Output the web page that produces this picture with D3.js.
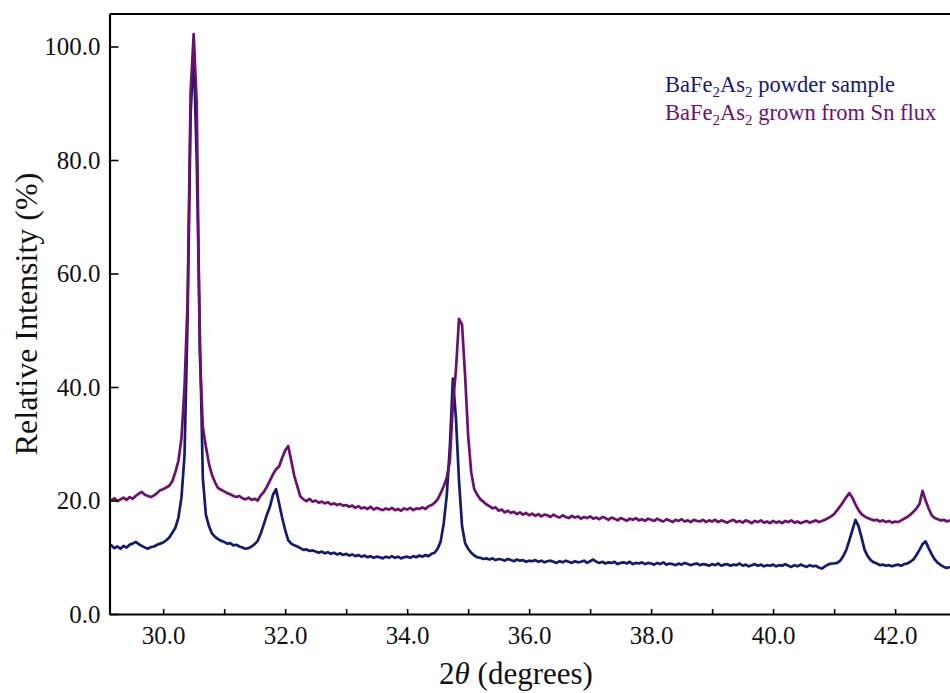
<!DOCTYPE html>
<html>
<head>
<meta charset="utf-8">
<script src="https://cdn.jsdelivr.net/npm/d3@7"></script>
<style>
  body { margin: 0; background: #fff; }
  svg text { font-family: "Liberation Serif", "Times New Roman", serif; }
</style>
</head>
<body>
<div id="chart"></div>
<script>
// scan grid: 2theta from 29.10 to 42.90 in 0.05 deg steps
var scanStart = 29.10;
var scanStep = 0.05;

// BaFe2As2 powder sample, one row per degree
var powder = [
  11.8, 12.1, 11.6, 11.9, 11.5, 12.0, 11.7, 12.2, 12.4, 12.7, 12.3, 12.0, 11.7, 11.5, 11.8, 11.9, 12.2, 12.4,
  12.6, 13.0, 13.5, 14.3, 15.2, 17.0, 20.5, 28.0, 52.0, 88.0, 99.5, 80.0, 50.0, 24.0, 17.5, 15.5, 14.2, 13.6, 13.2, 12.9,
  12.7, 12.4, 12.5, 12.1, 12.2, 11.9, 11.7, 11.5, 11.6, 11.9, 12.3, 12.9, 14.2, 15.8, 17.5, 18.9, 21.0, 22.0, 19.5, 17.0,
  14.8, 13.0, 12.4, 12.1, 11.9, 11.6, 11.3, 11.4, 11.1, 11.2, 11.0, 10.8, 11.0, 10.7, 10.9, 10.6, 10.8, 10.5, 10.7, 10.4,
  10.6, 10.3, 10.5, 10.2, 10.4, 10.1, 10.3, 10.0, 10.2, 9.9, 10.1, 10.0, 9.8, 10.1, 9.9, 10.2, 9.9, 10.1, 9.8, 10.0,
  10.1, 9.9, 10.2, 10.0, 10.3, 10.1, 10.4, 10.2, 10.6, 10.8, 11.5, 12.8, 16.0, 21.0, 29.5, 41.5, 34.5, 23.5, 15.5, 12.5,
  11.5, 10.8, 10.3, 10.0, 9.9, 9.7, 9.8, 9.6, 9.8, 9.5, 9.7, 9.6, 9.4, 9.7, 9.5, 9.3, 9.6, 9.4, 9.5, 9.2,
  9.4, 9.3, 9.5, 9.2, 9.4, 9.1, 9.3, 9.4, 9.2, 9.0, 9.3, 9.1, 9.4, 9.2, 9.0, 9.3, 9.1, 9.2, 9.4, 9.0,
  9.3, 9.6, 9.2, 9.0, 9.2, 8.9, 9.1, 9.0, 9.2, 8.8, 9.0, 9.1, 8.9, 9.2, 8.8, 9.0, 8.9, 9.1, 8.8, 9.0,
  8.9, 8.7, 9.0, 8.8, 9.1, 8.7, 8.9, 8.8, 8.6, 8.9, 8.7, 9.0, 8.8, 8.6, 8.8, 8.9, 8.6, 8.8, 8.7, 8.5,
  8.8, 8.6, 8.9, 8.5, 8.7, 8.8, 8.5, 8.7, 8.6, 8.9, 8.5, 8.7, 8.4, 8.6, 8.8, 8.5, 8.7, 8.4, 8.6, 8.5,
  8.7, 8.4, 8.6, 8.5, 8.8, 8.5, 8.3, 8.6, 8.4, 8.7, 8.5, 8.3, 8.6, 8.4, 8.5, 8.2, 8.0, 8.4, 8.7, 8.9,
  8.9, 9.0, 9.4, 10.2, 11.3, 13.0, 14.8, 16.6, 15.5, 13.5, 11.3, 10.2, 9.5, 9.1, 8.9, 8.6, 8.7, 8.5, 8.6, 8.4,
  8.6, 8.7, 8.5, 8.8, 8.9, 9.2, 9.6, 10.4, 11.3, 12.3, 12.8, 11.6, 10.5, 9.6, 9.0, 8.6, 8.3, 8.1, 8.3
];

// BaFe2As2 grown from Sn flux
var snFlux = [
  20.3, 20.0, 20.4, 19.9, 20.2, 20.5, 20.1, 20.6, 20.3, 20.8, 21.2, 21.5, 21.0, 20.8, 20.6, 20.9, 21.3, 21.8,
  22.0, 22.3, 22.6, 23.4, 25.0, 27.0, 31.0, 40.0, 55.0, 92.0, 102.2, 90.0, 46.0, 33.0, 29.5, 26.5, 24.5, 23.2, 22.2, 21.9,
  21.6, 21.3, 21.1, 20.8, 20.6, 20.8, 20.4, 20.2, 20.5, 20.1, 20.3, 20.0, 20.9, 21.5, 22.4, 23.5, 24.6, 25.5, 26.0, 27.5,
  28.8, 29.6, 27.0, 24.3, 22.5, 20.7, 20.2, 19.9, 20.3, 19.8, 20.0, 19.6, 19.8, 19.5, 19.7, 19.3, 19.5, 19.2, 19.4, 19.1,
  19.2, 18.9, 19.1, 18.7, 19.0, 18.6, 18.8, 18.5, 18.9, 18.4, 18.7, 18.5, 18.3, 18.6, 18.4, 18.7, 18.3, 18.5, 18.2, 18.6,
  18.4, 18.7, 18.3, 18.6, 18.5, 18.8, 18.5, 19.0, 19.2, 19.6, 20.2, 21.3, 22.5, 24.0, 27.0, 37.0, 43.0, 52.0, 51.0, 42.0,
  31.5, 25.0, 22.0, 21.0, 20.2, 19.8, 19.3, 19.0, 18.6, 18.8, 18.2, 18.4, 17.9, 18.2, 17.8, 18.0, 17.6, 17.9, 17.5, 17.8,
  17.4, 17.7, 17.3, 17.6, 17.2, 17.5, 17.4, 17.1, 17.5, 17.2, 17.0, 17.4, 17.1, 16.9, 17.3, 17.0, 17.2, 16.8, 17.1, 16.9,
  17.2, 16.8, 17.0, 16.7, 17.1, 16.9, 16.6, 17.0, 16.8, 16.5, 16.9, 16.7, 16.4, 16.8, 16.6, 16.9, 16.5, 16.7, 16.4, 16.8,
  16.6, 16.4, 16.8, 16.5, 16.3, 16.7, 16.5, 16.2, 16.6, 16.4, 16.7, 16.3, 16.5, 16.2, 16.6, 16.4, 16.3, 16.6, 16.2, 16.5,
  16.3, 16.6, 16.2, 16.5, 16.3, 16.1, 16.4, 16.6, 16.2, 16.4, 16.1, 16.5, 16.3, 16.0, 16.4, 16.2, 16.5, 16.1, 16.3, 16.0,
  16.4, 16.1, 16.3, 16.0, 16.4, 16.2, 16.5, 16.1, 16.3, 16.0, 16.2, 16.4, 16.1, 16.3, 16.5, 16.2, 16.4, 16.6, 16.9, 17.2,
  17.6, 18.3, 19.0, 19.8, 20.6, 21.3, 20.5, 19.3, 18.3, 17.6, 17.2, 16.9, 16.7, 16.5, 16.6, 16.3, 16.5, 16.2, 16.4, 16.1,
  16.3, 16.2, 16.5, 16.8, 17.1, 17.5, 18.0, 18.6, 19.4, 21.7, 20.0, 18.6, 17.4, 16.9, 16.7, 16.5, 16.6, 16.3, 16.5
];

var xMajorTicks = [30, 32, 34, 36, 38, 40, 42];
var xMinorTicks = [31, 33, 35, 37, 39, 41];
var yTicks = [0, 20, 40, 60, 80, 100];

var seriesNames = ["powder sample", "grown from Sn flux"];
var seriesColors = ["#141a6e", "#6c0f6e"];

var width = 950, height = 693;
var plot = { left: 109.5, right: 950, top: 14, bottom: 614 };

var svg = d3.select("#chart").append("svg")
    .attr("width", width)
    .attr("height", height);

var x = d3.scaleLinear()
    .domain([29.12, 42.9])
    .range([plot.left, plot.right]);

var y = d3.scaleLinear()
    .domain([0, 105.73])
    .range([plot.bottom, plot.top]);

// turn index into 2theta
function toPoints(values) {
  return values.map(function (v, i) {
    return { t: scanStart + i * scanStep, v: v };
  });
}

svg.append("clipPath")
    .attr("id", "clip")
  .append("rect")
    .attr("x", plot.left)
    .attr("y", plot.top)
    .attr("width", plot.right - plot.left)
    .attr("height", plot.bottom - plot.top);

var line = d3.line()
    .x(function (d) { return x(d.t); })
    .y(function (d) { return y(d.v); });

var g = svg.append("g").attr("clip-path", "url(#clip)");

[powder, snFlux].forEach(function (s, i) {
  g.append("path")
      .datum(toPoints(s))
      .attr("fill", "none")
      .attr("stroke", seriesColors[i])
      .attr("stroke-width", 2.7)
      .attr("stroke-linejoin", "round")
      .attr("d", line);
});

// x axis, ticks pointing inward
var xAxis = svg.append("g")
    .attr("transform", "translate(0," + plot.bottom + ")")
    .call(d3.axisBottom(x).tickValues(xMajorTicks).tickSizeInner(-5).tickSizeOuter(0).tickPadding(12)
      .tickFormat(d3.format(".1f")));
svg.append("g")
    .attr("transform", "translate(0," + plot.bottom + ")")
    .call(d3.axisBottom(x).tickValues(xMinorTicks).tickSizeInner(-5).tickSizeOuter(0).tickFormat(""))
    .select(".domain").remove();

var yAxis = svg.append("g")
    .attr("transform", "translate(" + plot.left + ",0)")
    .call(d3.axisLeft(y).tickValues(yTicks).tickSizeInner(-9).tickSizeOuter(0).tickPadding(9)
      .tickFormat(d3.format(".1f")));

svg.selectAll(".tick line").attr("stroke", "#000").attr("stroke-width", 1.6);
svg.selectAll(".domain").attr("stroke", "#000").attr("stroke-width", 2.2);
svg.selectAll(".tick text")
    .attr("fill", "#111")
    .style("font-size", "25px");
xAxis.selectAll(".tick text").attr("dy", "0.71em");

// top frame line
svg.append("line")
    .attr("x1", plot.left).attr("x2", plot.right)
    .attr("y1", plot.top).attr("y2", plot.top)
    .attr("stroke", "#000").attr("stroke-width", 2.2);

// axis titles
svg.append("text")
    .attr("transform", "translate(37," + (plot.top + plot.bottom) / 2 + ") rotate(-90)")
    .attr("text-anchor", "middle")
    .style("font-size", "32px")
    .attr("fill", "#111")
    .text("Relative Intensity (%)");

var xt = svg.append("text")
    .attr("x", 516)
    .attr("y", 684)
    .attr("text-anchor", "middle")
    .style("font-size", "31px")
    .attr("fill", "#111");
xt.append("tspan").text("2");
xt.append("tspan").style("font-style", "italic").text("\u03b8");
xt.append("tspan").text(" (degrees)");

// legend with subscripts
var legend = svg.append("g");
seriesNames.forEach(function (name, i) {
  var t = legend.append("text")
      .attr("x", 665)
      .attr("y", 92 + i * 28)
      .attr("fill", seriesColors[i])
      .style("font-size", "22.5px");
  t.append("tspan").text("BaFe");
  t.append("tspan").attr("dy", 5).style("font-size", "15px").text("2");
  t.append("tspan").attr("dy", -5).text("As");
  t.append("tspan").attr("dy", 5).style("font-size", "15px").text("2");
  t.append("tspan").attr("dy", -5).text(" " + name);
});
</script>
</body>
</html>
